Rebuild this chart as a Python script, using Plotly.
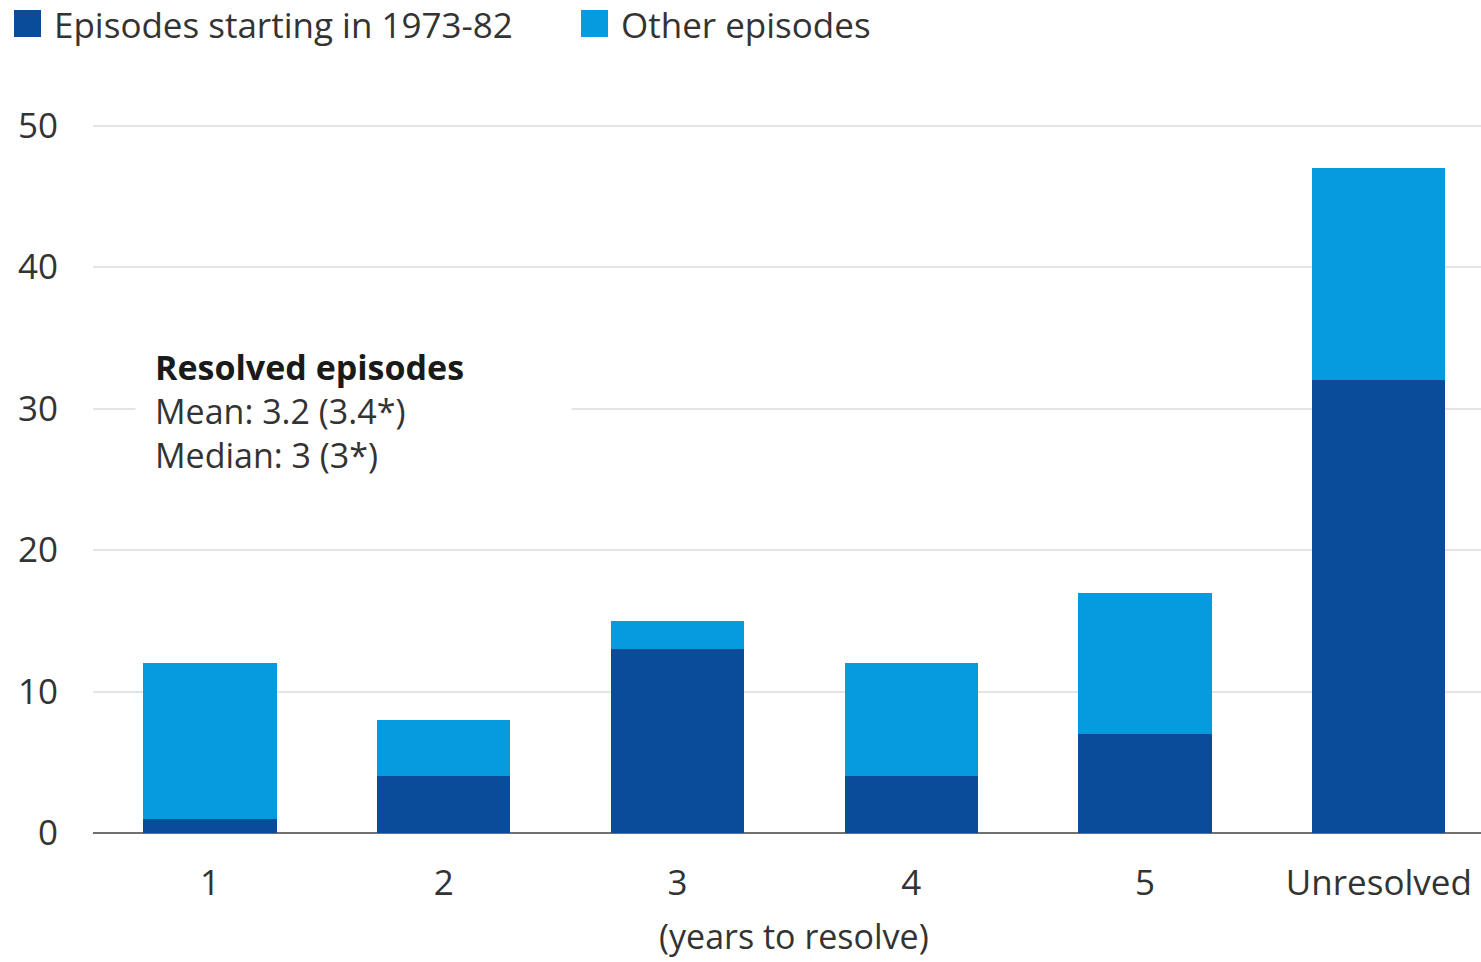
import plotly.graph_objects as go

# Years-to-resolve buckets and episode counts
categories = ["1", "2", "3", "4", "5", "Unresolved"]
episodes_1973_82 = [1, 4, 13, 4, 7, 32]
other_episodes = [11, 4, 2, 8, 10, 15]

series_names = ["Episodes starting in 1973-82", "Other episodes"]
y_ticks = [0, 10, 20, 30, 40, 50]

DARK = "#0a4c9a"
LIGHT = "#069ade"
TEXT = "#333333"
FONT = "Open Sans"
FS = 35

W, H = 1481, 962
Y_MAX = 50.4
M_L, M_R, M_B = 93, 0, 129
ZERO_PY = H - M_B
# top margin chosen so the 50 gridline lands ~707 px above the baseline
PX_PER_UNIT = 707 / 50
M_T = int(round(ZERO_PY - Y_MAX * PX_PER_UNIT))
PLOT_W = W - M_L - M_R
PLOT_H = H - M_T - M_B


def px_x(px):
    return (px - M_L) / PLOT_W


def px_y(py):
    return (H - M_B - py) / PLOT_H


fig = go.Figure()
fig.add_trace(go.Bar(x=categories, y=episodes_1973_82, name=series_names[0],
                     marker=dict(color=DARK, line=dict(width=0)), showlegend=False))
fig.add_trace(go.Bar(x=categories, y=other_episodes, name=series_names[1],
                     marker=dict(color=LIGHT, line=dict(width=0)), showlegend=False))

# Legend drawn as squares + labels along the top edge
legend_items = [(series_names[0], DARK, 14), (series_names[1], LIGHT, 581)]
for name, color, x0 in legend_items:
    fig.add_shape(type="rect", xref="paper", yref="paper",
                  x0=px_x(x0), x1=px_x(x0 + 27), y0=px_y(37), y1=px_y(10),
                  fillcolor=color, line=dict(width=0))
    fig.add_annotation(text=name, xref="paper", yref="paper",
                       x=px_x(x0 + 38), y=px_y(24), xanchor="left", yanchor="middle",
                       showarrow=False, font=dict(family=FONT, size=FS, color=TEXT))

# Summary box for resolved episodes (white panel masks the gridline behind it)
fig.add_annotation(text=" ", xref="paper", yref="paper",
                   x=px_x(135), y=px_y(342), xanchor="left", yanchor="top",
                   width=435, height=140, bgcolor="white", borderpad=0,
                   showarrow=False, font=dict(family=FONT, size=10))
summary_lines = [
    ("<b>Resolved episodes</b>", 367, "#1a1a1a"),
    ("Mean: 3.2 (3.4*)", 411, TEXT),
    ("Median: 3 (3*)", 455, TEXT),
]
for txt, py, col in summary_lines:
    fig.add_annotation(text=txt, xref="paper", yref="paper",
                       x=px_x(153), y=px_y(py), xanchor="left", yanchor="middle",
                       showarrow=False, font=dict(family=FONT, size=34, color=col))

# Axis title centred under the category span
fig.add_annotation(text="(years to resolve)", xref="x", yref="paper",
                   x=2.5, y=px_y(936), xanchor="center", yanchor="middle",
                   showarrow=False, font=dict(family=FONT, size=34, color=TEXT))

fig.update_layout(
    width=W, height=H,
    margin=dict(l=M_L, r=M_R, t=M_T, b=M_B, pad=0),
    barmode="stack", bargap=0.43,
    plot_bgcolor="white", paper_bgcolor="white",
    font=dict(family=FONT, size=FS, color=TEXT),
    xaxis=dict(type="category", range=[-0.5, 5.437], showgrid=False,
               showline=False, zeroline=False, ticks="",
               tickfont=dict(family=FONT, size=FS, color=TEXT),
               ticklabelstandoff=26),
    yaxis=dict(range=[0, Y_MAX], tickvals=y_ticks, showgrid=True,
               gridcolor="#e4e4e4", gridwidth=1.5,
               zeroline=True, zerolinecolor="#707070", zerolinewidth=2,
               showline=False, ticks="",
               tickfont=dict(family=FONT, size=FS, color=TEXT),
               ticklabelstandoff=34),
)

fig.write_html("out.html")
